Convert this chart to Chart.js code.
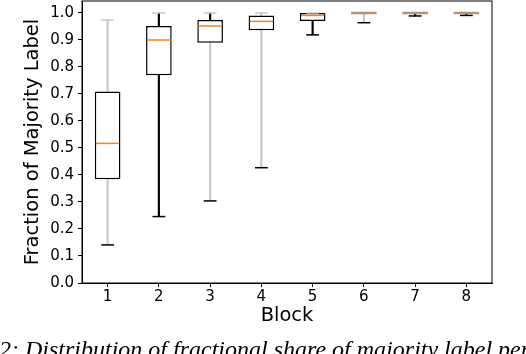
<!DOCTYPE html>
<html>
<head>
<meta charset="utf-8">
<script src="https://cdn.jsdelivr.net/npm/chart.js@4/dist/chart.umd.min.js"></script>
<style>
    html, body { margin: 0; padding: 0; background: #fff; overflow: hidden; }
    #wrap { position: relative; width: 526px; height: 354px; overflow: hidden; }
    #caption {
        position: absolute; left: -1px; top: 337px; white-space: nowrap;
        font: italic 24px/24px 'Liberation Serif', serif; color: #000;
    }
    #caption .pre { position: absolute; right: 100%; top: 0; padding-right: 6px; }
</style>
</head>
<body>
<div id="wrap">
    <canvas id="boxChart" width="526" height="354"></canvas>
    <div id="caption"><span class="pre">Figure</span>2: Distribution of fractional share of majority label per block</div>
</div>
<script>
const blocks = ['1', '2', '3', '4', '5', '6', '7', '8'];
const whiskerLow = [0.141, 0.246, 0.304, 0.427, 0.919, 0.964, 0.989, 0.991];
const q1 = [0.384, 0.769, 0.890, 0.936, 0.970, 1.0, 1.0, 1.0];
const medians = [0.517, 0.900, 0.952, 0.969, 0.991, 1.0, 1.0, 1.0];
const q3 = [0.709, 0.952, 0.974, 0.991, 1.0, 1.0, 1.0, 1.0];
const whiskerHigh = [0.974, 1.0, 1.0, 1.0, 1.0, 1.0, 1.0, 1.0];
const yTicks = [0.0, 0.1, 0.2, 0.3, 0.4, 0.5, 0.6, 0.7, 0.8, 0.9, 1.0];

// colours of the individual whisker pieces as they show in the picture
const GRAY = '#c8c8c8';
const BLACK = '#000000';
const upperWhiskerColors = [GRAY, BLACK, BLACK, GRAY, GRAY, GRAY, GRAY, GRAY];
const lowerWhiskerColors = [GRAY, BLACK, GRAY, GRAY, BLACK, GRAY, BLACK, BLACK];
const upperCapColors = [GRAY, GRAY, GRAY, GRAY, GRAY, GRAY, GRAY, GRAY];
const lowerCapColors = [BLACK, BLACK, BLACK, BLACK, BLACK, BLACK, BLACK, BLACK];

const boxExtras = {
    id: 'boxExtras',
    afterDatasetsDraw(chart) {
        const ctx = chart.ctx;
        const x = chart.scales.x;
        const y = chart.scales.y;
        const step = x.getPixelForValue(1) - x.getPixelForValue(0);
        const capHalf = step * 0.125;
        const boxHalf = step * 0.25;
        ctx.save();
        blocks.forEach((b, i) => {
            const cx = x.getPixelForValue(i);
            const line = (x0, x1, yy, color, w) => {
                ctx.strokeStyle = color;
                ctx.lineWidth = w || 1.5;
                ctx.beginPath();
                ctx.moveTo(x0, yy);
                ctx.lineTo(x1, yy);
                ctx.stroke();
            };
            line(cx - capHalf, cx + capHalf, y.getPixelForValue(whiskerLow[i]), lowerCapColors[i]);
            if (q3[i] - q1[i] < 0.002) {
                // box collapsed onto the median
                line(cx - boxHalf, cx + boxHalf, y.getPixelForValue(medians[i]), '#b39479', 2.5);
            } else {
                line(cx - boxHalf + 1, cx + boxHalf - 1, y.getPixelForValue(medians[i]), '#ff7f0e');
                line(cx - capHalf, cx + capHalf, y.getPixelForValue(whiskerHigh[i]), upperCapColors[i]);
            }
        });
        // frame around the plot area
        const a = chart.chartArea;
        ctx.strokeStyle = '#000';
        ctx.lineWidth = 1;
        ctx.strokeRect(a.left, a.top, a.right - a.left, a.bottom - a.top);
        ctx.restore();
    }
};

const ctx = document.getElementById('boxChart');
new Chart(ctx, {
    type: 'bar',
    data: {
        labels: blocks,
        datasets: [
            {
                data: blocks.map((b, i) => [q3[i], whiskerHigh[i]]),
                backgroundColor: upperWhiskerColors,
                barThickness: 1.5,
                grouped: false,
                order: 3
            },
            {
                data: blocks.map((b, i) => [whiskerLow[i], q1[i]]),
                backgroundColor: lowerWhiskerColors,
                barThickness: 1.5,
                grouped: false,
                order: 2
            },
            {
                data: blocks.map((b, i) => [q1[i], q3[i]]),
                backgroundColor: '#ffffff',
                borderColor: '#000000',
                borderWidth: 1.5,
                borderSkipped: false,
                categoryPercentage: 1,
                barPercentage: 0.5,
                grouped: false,
                order: 1
            }
        ]
    },
    options: {
        responsive: false,
        animation: false,
        layout: { padding: { left: 17, right: 34, top: 1, bottom: 28 } },
        plugins: {
            legend: { display: false },
            tooltip: { enabled: false }
        },
        scales: {
            x: {
                offset: true,
                grid: { display: true, drawOnChartArea: false, tickLength: 4, tickColor: '#000', offset: false },
                border: { color: '#000', width: 1 },
                ticks: { color: '#000', padding: 2.5, font: { family: 'DejaVu Sans', size: 15, lineHeight: 1 }, maxRotation: 0 },
                title: {
                    display: true, text: 'Block', color: '#000',
                    font: { family: 'DejaVu Sans', size: 19.5, lineHeight: 1 }, padding: { top: 1, bottom: 0 }
                },
                afterFit: scale => { scale.height = 354 - 283 - 28; scale.paddingLeft = 0; scale.paddingRight = 0; }
            },
            y: {
                min: 0,
                max: 1.0444,
                grid: { display: true, drawOnChartArea: false, tickLength: 4, tickColor: '#000' },
                border: { color: '#000', width: 1 },
                ticks: {
                    color: '#000', padding: 4, font: { family: 'DejaVu Sans', size: 15, lineHeight: 1 },
                    callback: v => v.toFixed(1)
                },
                afterBuildTicks: scale => { scale.ticks = yTicks.map(v => ({ value: v })); },
                title: {
                    display: true, text: 'Fraction of Majority Label', color: '#000',
                    font: { family: 'DejaVu Sans', size: 19.5, lineHeight: 1 }, padding: { top: 6, bottom: 0 }
                },
                afterFit: scale => { scale.width = 82 - 17; scale.paddingTop = 0; scale.paddingBottom = 0; }
            }
        }
    },
    plugins: [boxExtras]
});
</script>
</body>
</html>
